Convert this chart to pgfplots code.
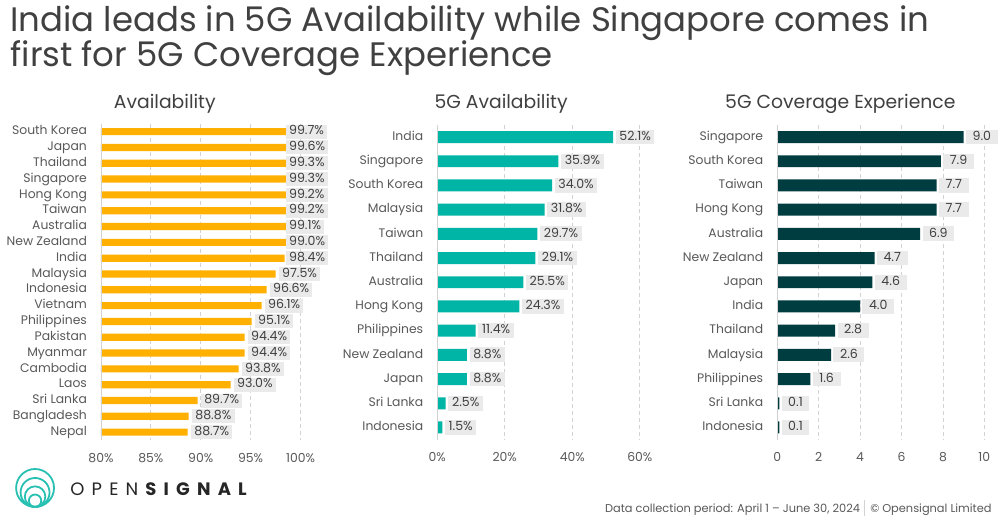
\documentclass[border=0pt]{standalone}
\usepackage{fontspec}
\setmainfont{Poppins}
\newfontfamily\logofont[LetterSpace=40]{Poppins}
\usepackage{pgfplots}
\pgfplotsset{compat=1.18}
\usepackage{pgfplotstable}

\definecolor{orangebar}{RGB}{255,176,0}
\definecolor{tealbar}{RGB}{0,181,165}
\definecolor{darkbar}{RGB}{0,61,64}
\definecolor{lblbg}{RGB}{234,234,234}
\definecolor{txt}{RGB}{64,64,64}
\definecolor{axtxt}{RGB}{89,89,89}
\definecolor{gridc}{RGB}{210,210,210}
\definecolor{logoteal}{RGB}{40,192,178}

\pgfplotstableread[col sep=comma]{
idx,val,name
0,99.7,South Korea
1,99.6,Japan
2,99.3,Thailand
3,99.3,Singapore
4,99.2,Hong Kong
5,99.2,Taiwan
6,99.1,Australia
7,99.0,New Zealand
8,98.4,India
9,97.5,Malaysia
10,96.6,Indonesia
11,96.1,Vietnam
12,95.1,Philippines
13,94.4,Pakistan
14,94.4,Myanmar
15,93.8,Cambodia
16,93.0,Laos
17,89.7,Sri Lanka
18,88.8,Bangladesh
19,88.7,Nepal
}\availtab

\pgfplotstableread[col sep=comma]{
idx,val,name
0,52.1,India
1,35.9,Singapore
2,34.0,South Korea
3,31.8,Malaysia
4,29.7,Taiwan
5,29.1,Thailand
6,25.5,Australia
7,24.3,Hong Kong
8,11.4,Philippines
9,8.8,New Zealand
10,8.8,Japan
11,2.5,Sri Lanka
12,1.5,Indonesia
}\fivegtab

\pgfplotstableread[col sep=comma]{
idx,val,name
0,9.0,Singapore
1,7.9,South Korea
2,7.7,Taiwan
3,7.7,Hong Kong
4,6.9,Australia
5,4.7,New Zealand
6,4.6,Japan
7,4.0,India
8,2.8,Thailand
9,2.6,Malaysia
10,1.6,Philippines
11,0.1,Sri Lanka
12,0.1,Indonesia
}\covtab

\pgfplotsset{
  panel/.style={
    scale only axis, anchor=center, clip=false,
    y dir=reverse,
    axis line style={draw=none},
    tick style={draw=none},
    xmajorgrids,
    major grid style={gridc, dash pattern=on 2pt off 1.5pt, line width=0.4pt},
    /pgf/number format/assume math mode=true,
    tick label style={text=axtxt, font=\fontsize{6.2}{7}\selectfont},
    yticklabel style={anchor=east, xshift=-3.5pt, text height=4.5pt, text depth=1.3pt},
    xticklabel style={yshift=-3pt},
    ytick=data,
  },
  lbl/.style={
    xbar, bar shift=0pt, draw=none, fill=none,
    point meta=explicit,
    nodes near coords style={anchor=west, fill=lblbg, text=txt,
      font=\fontsize{6.3}{7}\selectfont, text height=4.5pt, text depth=1.3pt,
      inner ysep=0.8pt, inner xsep=1.6pt, xshift=#1},
  },
}

\begin{document}
\begin{tikzpicture}
\begin{scope}[x=0.5pt,y=-0.5pt]
\useasboundingbox (0,0) rectangle (1000,522);
\fill[white] (0,0) rectangle (1000,522);
\node[anchor=base west, inner sep=0, text=txt, font=\fontsize{17}{20}\selectfont] at (8,32) {India leads in 5G Availability while Singapore comes in};
\node[anchor=base west, inner sep=0, text=txt, font=\fontsize{17}{20}\selectfont] at (8,67) {first for 5G Coverage Experience};
\node[text=txt, font=\fontsize{9.4}{11}\selectfont] at (163,104) {Availability};
\node[text=txt, font=\fontsize{9.4}{11}\selectfont] at (500,104) {5G Availability};
\node[text=txt, font=\fontsize{9.4}{11}\selectfont] at (840,104) {5G Coverage Experience};
% logo
\foreach \r in {19,14.5,10.3,6.2} {
  \draw[logoteal, line width=0.9pt] (33,{508-\r}) circle[radius=\r];
}
\node[anchor=base west, inner sep=0, text=black!85, font=\fontsize{9}{10}\selectfont\logofont] at (68,497) {OPEN\textbf{SIGNAL}};
\node[anchor=base east, inner sep=0, text=axtxt, font=\fontsize{5.7}{7}\selectfont] at (992,514) {Data collection period: April 1 – June 30, 2024\,\,\textcolor{gridc}{\rule[-1.5pt]{0.4pt}{8pt}}\,\,\,© Opensignal Limited};
\end{scope}

% Panel 1
\begin{axis}[panel, at={(99.5pt,-141.25pt)}, width=100pt, height=158.5pt,
  xmin=0, xmax=20, ymin=-0.5, ymax=19.5,
  xtick={0,5,10,15,20}, xticklabels={80\%,85\%,90\%,95\%,100\%},
  yticklabels from table={\availtab}{name}]
\addplot[xbar, bar shift=0pt, bar width=3.6pt, fill=orangebar, draw=none]
  table[x expr={\thisrow{val}-80}, y=idx]{\availtab};
\addplot[lbl=1.5pt, nodes near coords style={inner ysep=0.6pt},
  nodes near coords={\pgfmathprintnumber[fixed,fixed zerofill,precision=1]{\pgfplotspointmeta}\%}]
  table[x expr={min(\thisrow{val},98.2)-80}, y=idx, meta=val]{\availtab};
\draw[gridc, line width=0.4pt] (axis cs:0,-0.5) -- (axis cs:0,19.5);
\end{axis}

% Panel 2
\begin{axis}[panel, at={(268.75pt,-141.43pt)}, width=101.5pt, height=157.65pt,
  xmin=0, xmax=60, ymin=-0.5, ymax=12.5,
  xtick={0,20,40,60}, xticklabel={\pgfmathprintnumber{\tick}\%},
  yticklabels from table={\fivegtab}{name}]
\addplot[xbar, bar shift=0pt, bar width=6pt, fill=tealbar, draw=none]
  table[x=val, y=idx]{\fivegtab};
\addplot[lbl=1.2pt, nodes near coords style={inner xsep=1.8pt},
  nodes near coords={\pgfmathprintnumber[fixed,fixed zerofill,precision=1]{\pgfplotspointmeta}\%}]
  table[x=val, y=idx, meta=val]{\fivegtab};
\draw[gridc, line width=0.4pt] (axis cs:0,-0.5) -- (axis cs:0,12.5);
\end{axis}

% Panel 3
\begin{axis}[panel, at={(440.25pt,-141.43pt)}, width=103.8pt, height=157.65pt,
  xmin=0, xmax=10, ymin=-0.5, ymax=12.5,
  xtick={0,2,4,6,8,10},
  yticklabels from table={\covtab}{name}]
\addplot[xbar, bar shift=0pt, bar width=6pt, fill=darkbar, draw=none]
  table[x=val, y=idx]{\covtab};
\addplot[lbl=1pt, nodes near coords style={inner xsep=3.3pt},
  nodes near coords={\pgfmathprintnumber[fixed,fixed zerofill,precision=1]{\pgfplotspointmeta}}]
  table[x=val, y=idx, meta=val]{\covtab};
\draw[gridc, line width=0.4pt] (axis cs:0,-0.5) -- (axis cs:0,12.5);
\end{axis}
\end{tikzpicture}
\end{document}
